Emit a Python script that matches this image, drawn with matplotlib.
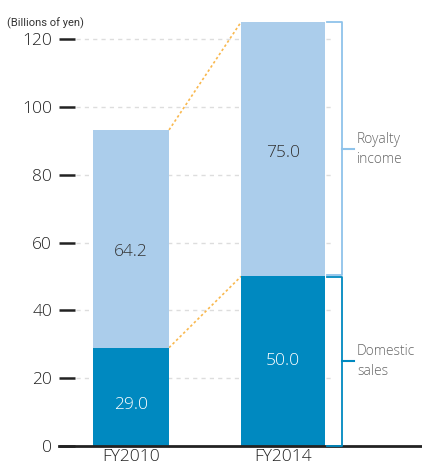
import numpy as np
import matplotlib
matplotlib.use('Agg')
import matplotlib.pyplot as plt

# --- DATA ---
years = ['FY2010', 'FY2014']
domestic = [29.0, 50.0]
royalty = [64.2, 75.0]
y_ticks = [0, 20, 40, 60, 80, 100, 120]

LIGHT = '#abcdeb'
DARK = '#0089c0'
ORANGE = '#f9b84e'
plt.rcParams['font.family'] = ['Open Sans', 'DejaVu Sans']
plt.rcParams['font.weight'] = 'light'

fig = plt.figure(figsize=(4.22, 4.70), dpi=100)
ax = fig.add_axes([59 / 422, 24 / 470, 363 / 422, 446 / 470])

x = np.arange(len(years))
widths = [0.5, 0.553]
tops = [d + r for d, r in zip(domestic, royalty)]

ax.bar(x, domestic, width=widths, color=DARK, zorder=2)
ax.bar(x, royalty, width=widths, bottom=domestic, color=LIGHT, zorder=2)

# values inside bars (small nudges to sit where the original has them)
dom_shift = [-2.5, 0]
roy_shift = [-4, -1]
for i in range(len(years)):
    ax.text(x[i], domestic[i] / 2 + dom_shift[i], f"{domestic[i]:.1f}", color='white',
            ha='center', va='center', fontsize=12.5, zorder=3)
    ax.text(x[i], domestic[i] + royalty[i] / 2 + roy_shift[i], f"{royalty[i]:.1f}",
            color='#333333', ha='center', va='center', fontsize=12.5, zorder=3)

# orange dotted connectors between bars
r0 = x[0] + widths[0] / 2
l1 = x[1] - widths[1] / 2
ax.plot([r0, l1], [tops[0], tops[1]], color=ORANGE, ls=(0, (1.5, 1.5)), lw=1.2, zorder=1)
ax.plot([r0, l1], [domestic[0], domestic[1]], color=ORANGE, ls=(0, (1.5, 1.5)), lw=1.2, zorder=1)

# brackets at the right of FY2014
bx0 = x[1] + widths[1] / 2 + 0.01
bx1 = bx0 + 0.1
tick_end = bx1 + 0.08
gap = 0.3
ax.plot([bx0, bx1, bx1, bx0], [tops[1], tops[1], domestic[1] + gap, domestic[1] + gap],
        color='#8fc3ea', lw=1.3, clip_on=False)
ax.plot([bx1, tick_end], [domestic[1] + royalty[1] / 2] * 2, color='#8fc3ea', lw=1.5)
ax.plot([bx0, bx1, bx1, bx0], [domestic[1] - gap, domestic[1] - gap, 0, 0],
        color=DARK, lw=1.3, clip_on=False, zorder=4)
ax.plot([bx1, tick_end], [domestic[1] / 2] * 2, color=DARK, lw=1.5)
ax.text(tick_end + 0.02, domestic[1] + royalty[1] / 2, 'Royalty\nincome', color='#666666',
        ha='left', va='center', fontsize=10, linespacing=1.45)
ax.text(tick_end + 0.02, domestic[1] / 2, 'Domestic\nsales', color='#666666',
        ha='left', va='center', fontsize=10, linespacing=1.45)

# dashed gridlines
for t in y_ticks[1:]:
    ax.axhline(t, xmin=0.047, xmax=0.752, color='#dddddd', ls=(0, (3, 3)), lw=1, zorder=0)

ax.set_xlim(-0.474, 1.914)
ax.set_ylim(0, 131.5)
ax.set_yticks(y_ticks)
ax.set_yticklabels([str(t) for t in y_ticks], fontsize=12.5, color='#222222')
ax.set_xticks(x)
ax.set_xticklabels(years, fontsize=12.5, color='#222222')
ax.tick_params(axis='y', direction='in', length=11.5, width=1.8, color='#222222', pad=5)
ax.tick_params(axis='x', length=0, pad=2)

for s in ['top', 'right', 'left']:
    ax.spines[s].set_visible(False)
ax.spines['bottom'].set_linewidth(2)
ax.spines['bottom'].set_color('#222222')

fig.text(7 / 422, 1 - 23 / 470, '(Billions of yen)', fontsize=8, color='#333333',
         ha='left', va='center', fontweight='normal', family=['Roboto', 'DejaVu Sans'])

fig.savefig('out.png', dpi=100)
